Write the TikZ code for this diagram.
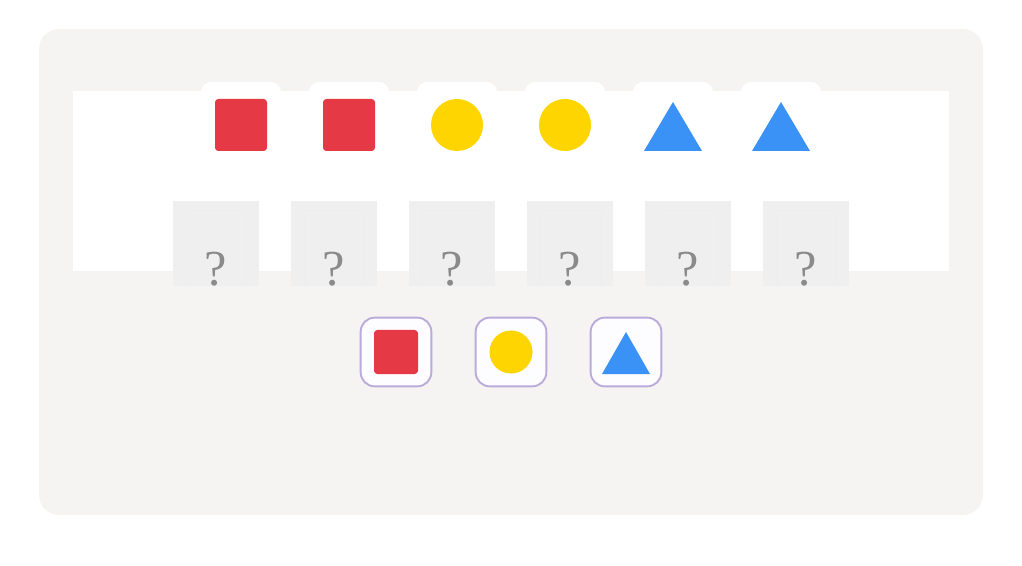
\documentclass[tikz,border=0pt]{standalone}
\usepackage{fontspec}
\usetikzlibrary{positioning}
\newfontfamily\askfont{Liberation Serif}

\definecolor{panelgray}{HTML}{F5F4F3}
\definecolor{slotgray}{HTML}{EFEFEF}
\definecolor{slotline}{HTML}{EDEDED}
\definecolor{shapered}{HTML}{E63946}
\definecolor{shapeyellow}{HTML}{FFD500}
\definecolor{shapeblue}{HTML}{3A92F7}
\definecolor{tileline}{HTML}{B9ABDA}
\definecolor{tilefill}{HTML}{FDFCFF}
\definecolor{markgray}{HTML}{8A8A8A}

\begin{document}
\begin{tikzpicture}[x=0.03cm, y=-0.03cm,
    redsq/.style={fill=shapered, rounded corners=0.1cm, inner sep=0pt},
    yelcirc/.style={circle, fill=shapeyellow, inner sep=0pt},
    slotbox/.style={fill=slotgray, inner sep=0pt, minimum width=2.58cm, minimum height=2.55cm},
    qmark/.style={anchor=base, text=markgray, font=\askfont\fontsize{43}{43}\selectfont},
    picktile/.style={draw=tileline, fill=tilefill, line width=1.6pt, rounded corners=0.42cm,
        inner sep=0pt, minimum width=2.12cm, minimum height=2.06cm}]
    \useasboundingbox (0,0) rectangle (1022,566);
    \fill[panelgray, rounded corners=0.6cm] (39,29) rectangle (983,515);

    % cards behind the sequence
    \foreach \x in {241,349,...,781}
        \fill[white, rounded corners=0.3cm] (\x-40,82) rectangle (\x+40,120);
    \fill[white] (73,91) rectangle (949,271);

    % the sequence
    \node[redsq, minimum size=1.56cm] (seq1) at (241,125) {};
    \node[redsq, minimum size=1.56cm] (seq2) at (349,125) {};
    \node[yelcirc, minimum size=1.56cm] (seq3) at (457,125) {};
    \node[yelcirc, minimum size=1.56cm] (seq4) at (565,125) {};
    \fill[shapeblue] (644,151) -- (673,102) -- (702,151) -- cycle;
    \fill[shapeblue] (752,151) -- (781,102) -- (810,151) -- cycle;

    % empty slots
    \foreach \x [count=\i] in {216,334,...,806} {
        \node[slotbox] (slot\i) at (\x,243.5) {};
        \draw[slotline] (\x-30,286) -- (\x-30,210) -- (\x+30,210) -- (\x+30,286);
        \node[qmark] (ask\i) at (\x,286) {?};
    }

    % choices
    \node[picktile] (pick1) at (396,352) {};
    \node[picktile] (pick2) at (511,352) {};
    \node[picktile] (pick3) at (626,352) {};
    \node[redsq, minimum size=1.32cm] (pickred) at (pick1) {};
    \node[yelcirc, minimum size=1.29cm] (pickyel) at (pick2) {};
    \fill[shapeblue] (602,374) -- (626,332) -- (650,374) -- cycle;
\end{tikzpicture}
\end{document}
